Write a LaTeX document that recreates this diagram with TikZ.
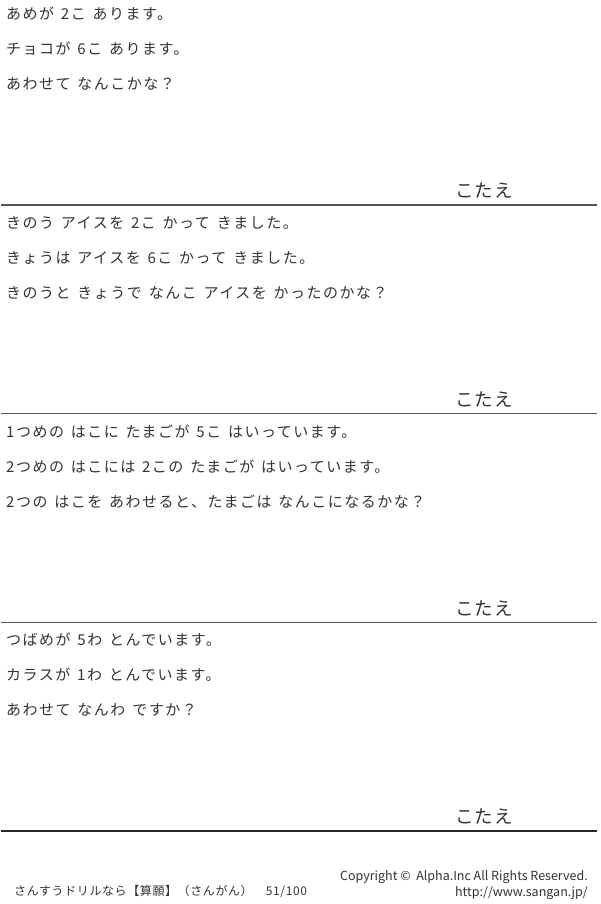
\documentclass[tikz,border=0pt]{standalone}
\usepackage{fontspec}
\setmainfont{Noto Sans CJK JP}
\newfontfamily\qfont{Noto Sans CJK JP}[LetterSpace=10, WordSpace=1.4]
\newfontfamily\kfont{Noto Sans CJK JP}[LetterSpace=6]
\newfontfamily\tfont{Noto Sans CJK JP}[LetterSpace=5, WordSpace=2]
\usetikzlibrary{positioning}
\definecolor{rulegray}{HTML}{5A5252}
\definecolor{inkgray}{HTML}{333333}
\tikzset{
  qline/.style={right, inner sep=0pt, text=inkgray, font=\qfont\fontsize{15}{17}\selectfont},
  kotae/.style={right, inner sep=0pt, text=inkgray, font=\kfont\fontsize{18.5}{21}\selectfont},
  answerrule/.style={draw=rulegray, line width=1.6pt},
  footer/.style={inner sep=0pt, text=inkgray, font=\fontsize{12.5}{14}\selectfont}
}

\begin{document}
\begin{tikzpicture}[x=1pt,y=-1pt]
  \useasboundingbox (0,0) rectangle (600,904);
  % first problem
  \begin{scope}
    \node[qline] (amea) at (6,14) {あめが 2こ あります。};
    \node[qline] (ameb) at (6,49) {チョコが 6こ あります。};
    \node[qline] (amec) at (6,84) {あわせて なんこかな？};
    \node[kotae] (kotaea) at (455,191) {こたえ};
    \draw[answerrule] (1,205) -- (597,205);
  \end{scope}
  % second problem
  \begin{scope}[yshift=-208.67pt]
    \node[qline] (icea) at (6,14) {きのう アイスを 2こ かって きました。};
    \node[qline] (iceb) at (6,49) {きょうは アイスを 6こ かって きました。};
    \node[qline] (icec) at (6,84) {きのうと きょうで なんこ アイスを かったのかな？};
    \node[kotae] (kotaeb) at (455,191) {こたえ};
    \draw[answerrule] (1,205) -- (597,205);
  \end{scope}
  % third problem
  \begin{scope}[yshift=-417.33pt]
    \node[qline] (egga) at (6,14) {1つめの はこに たまごが 5こ はいっています。};
    \node[qline] (eggb) at (6,49) {2つめの はこには 2この たまごが はいっています。};
    \node[qline] (eggc) at (6,84) {2つの はこを あわせると、たまごは なんこになるかな？};
    \node[kotae] (kotaec) at (455,191) {こたえ};
    \draw[answerrule] (1,205) -- (597,205);
  \end{scope}
  % fourth problem
  \begin{scope}[yshift=-626pt]
    \node[qline] (birda) at (6,14) {つばめが 5わ とんでいます。};
    \node[qline] (birdb) at (6,49) {カラスが 1わ とんでいます。};
    \node[qline] (birdc) at (6,84) {あわせて なんわ ですか？};
    \node[kotae] (kotaed) at (455,191) {こたえ};
    \draw[answerrule, draw=black!85] (1,205) -- (597,205);
  \end{scope}
  % footer
  \node[footer, font=\tfont\fontsize{12}{14}\selectfont, anchor=west] (title) at (14,891) {さんすうドリルなら【算願】（さんがん）　51/100};
  \node[footer, anchor=east] (copy) at (588,877) {Copyright ©\ \ Alpha.Inc All Rights Reserved.};
  \node[footer, anchor=east] (url) at (588,893) {http://www.sangan.jp/};
\end{tikzpicture}
\end{document}
